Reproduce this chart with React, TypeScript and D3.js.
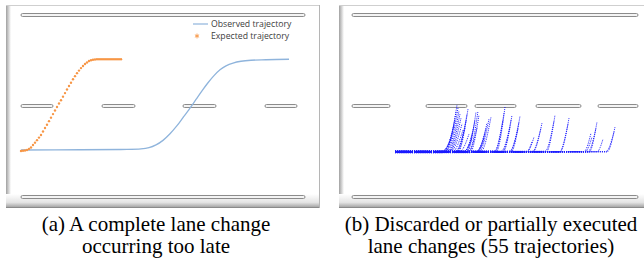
import * as d3 from 'd3';

// lane marking lateral positions (m): right edge, centre line, left edge
const LANE_LINES = [0, 3.6, 7.2];

// dashed centre-line segments [from, to] along the road (m)
const dashesA: [number, number][] = [[0, 32], [81, 114], [162, 195], [244, 276]];
const dashesB: [number, number][] = [[0, 38], [74, 115], [123, 164], [184, 229], [246, 286]];

// (a) expected trajectory (orange markers)
const expectedX = [
  0, 2, 4, 6, 8, 10, 12, 14, 16, 18, 20, 22, 24, 26, 28, 30, 32, 34, 36, 38, 40, 42, 44, 46, 48,
  50, 52, 54, 56, 58, 60, 62, 64, 66, 68, 70, 72, 74, 76, 78, 80, 82, 84, 86, 88, 90, 92, 94, 96, 98, 100,
];
const expectedLat = [
  1.82, 1.83, 1.84, 1.86, 1.9, 1.96, 2.06, 2.15, 2.25, 2.35, 2.45, 2.59, 2.73, 2.86, 3.0, 3.14, 3.28,
  3.42, 3.56, 3.7, 3.83, 3.97, 4.11, 4.25, 4.39, 4.52, 4.66, 4.78, 4.9, 5.0, 5.1, 5.18, 5.26, 5.32,
  5.38, 5.41, 5.43, 5.44, 5.45, 5.45, 5.45, 5.45, 5.45, 5.45, 5.45, 5.45, 5.45, 5.45, 5.45, 5.45, 5.45,
];

// (a) observed trajectory (blue line)
const observedX = [0, 60, 100, 120, 128, 135, 142, 149, 156, 162, 169, 175, 181, 187, 193, 199, 205, 212, 220, 230, 245, 268];
const observedLat = [1.86, 1.87, 1.88, 1.9, 1.95, 2.06, 2.24, 2.5, 2.82, 3.14, 3.52, 3.86, 4.2, 4.52, 4.8, 5.03, 5.19, 5.3, 5.37, 5.41, 5.43, 5.45];

// (b) 55 discarded / partial lane changes
const PARTIAL_START_X = 43;
const partialBaseLat = [
  1.8, 1.78, 1.76, 1.79, 1.81, 1.77, 1.8, 1.78, 1.75, 1.79, 1.82, 1.77, 1.8, 1.76, 1.79, 1.78, 1.81, 1.77, 1.8, 1.75,
  1.78, 1.82, 1.79, 1.76, 1.8, 1.78, 1.81, 1.77, 1.79, 1.76, 1.8, 1.78, 1.82, 1.77, 1.79, 1.76, 1.8, 1.78, 1.81, 1.77,
  1.79, 1.76, 1.8, 1.78, 1.77, 1.81, 1.79, 1.76, 1.8, 1.78, 1.77, 1.8, 1.79, 1.78, 1.8,
];
const partialRiseX = [
  94, 95, 96, 97, 98, 93, 92, 91, 90, 89, 99, 100, 106, 105, 104, 103, 108, 115, 117, 118, 114, 113, 112, 116, 112,
  127, 129, 126, 125, 124, 124, 144, 143, 142, 151, 150, 149, 159, 158, 157, 175, 174, 181, 180, 194, 193, 208, 207,
  232, 233, 237, 236, 245, 255, 254,
];
const partialPeakX = [
  105, 106, 107, 108, 109, 104, 103, 102, 101, 100, 110, 111, 116, 115, 114, 113, 117, 124, 126, 127, 123, 122, 121, 125, 120,
  137, 139, 135, 134, 133, 132, 153, 152, 151, 160, 159, 158, 168, 167, 166, 182, 180, 190, 189, 203, 202, 217, 216,
  239, 240, 245, 244, 251, 263, 262,
];
const partialPeakLat = [
  3.64, 3.52, 3.4, 3.28, 3.12, 3.36, 3.05, 2.81, 2.57, 2.33, 2.89, 2.65, 3.48, 3.28, 3.01, 2.73, 2.49, 3.36, 3.4, 3.24,
  3.05, 2.81, 2.57, 2.73, 2.33, 3.09, 3.16, 2.93, 2.73, 2.53, 2.29, 3.56, 3.32, 3.05, 3.24, 3.05, 2.77, 3.2, 2.97, 2.69,
  2.37, 2.18, 2.93, 2.73, 3.24, 3.01, 3.12, 2.89, 2.53, 2.37, 2.97, 2.73, 2.29, 2.77, 2.57,
];

const captionA = ['(a) A complete lane change', 'occurring too late'];
const captionB = ['(b) Discarded or partially executed', 'lane changes (55 trajectories)'];

const W = 644;
const H = 261;

const yScale = d3.scaleLinear().domain([0, 7.2]).range([197, 15]);
const xA = d3.scaleLinear().domain([0, 284]).range([21, 305]);
const xB = d3.scaleLinear().domain([0, 286]).range([352, 638]);

function Frame({ x0, x1, id }: { x0: number; x1: number; id: string }) {
  return (
    <g>
      <defs>
        <linearGradient id={`${id}-bot`} x1="0" y1="0" x2="0" y2="1">
          <stop offset="0" stopColor="#ffffff" />
          <stop offset="0.6" stopColor="#e4e4e4" />
          <stop offset="1" stopColor="#9a9a9a" />
        </linearGradient>
        <linearGradient id={`${id}-left`} x1="0" y1="0" x2="1" y2="0">
          <stop offset="0" stopColor="#a0a0a0" />
          <stop offset="1" stopColor="#ffffff" />
        </linearGradient>
      </defs>
      <rect x={x0} y={5} width={x1 - x0} height={203} fill="#fff" />
      <rect x={x0} y={5} width={5} height={203} fill={`url(#${id}-left)`} />
      <rect x={x0} y={194} width={x1 - x0} height={14} fill={`url(#${id}-bot)`} />
      <line x1={x0} x2={x1} y1={5.5} y2={5.5} stroke="#cfcfcf" />
      <line x1={x0} x2={x1} y1={207.5} y2={207.5} stroke="#8a8a8a" />
    </g>
  );
}

function Lanes({ x, dashes }: { x: d3.ScaleLinear<number, number>; dashes: [number, number][] }) {
  const [d0, d1] = x.domain();
  const edges = [LANE_LINES[0], LANE_LINES[2]];
  return (
    <g fill="#f4f4f4" stroke="#8c8c8c" strokeWidth={1}>
      {edges.map(l => (
        <rect key={l} x={x(d0)} y={yScale(l) - 1.5} width={x(d1) - x(d0)} height={3} rx={1.5} />
      ))}
      {dashes.map(([a, b]) => (
        <rect key={a} x={x(a)} y={yScale(LANE_LINES[1]) - 1.5} width={x(b) - x(a)} height={3} rx={1.5} />
      ))}
    </g>
  );
}

export default function App() {
  const observedLine = d3
    .line<number>()
    .x((_, i) => xA(observedX[i]))
    .y(d => yScale(d))
    .curve(d3.curveCatmullRom.alpha(0.5))(observedLat) ?? '';

  const partialLine = d3
    .line<[number, number]>()
    .x(d => xB(d[0]))
    .y(d => yScale(d[1]))
    .curve(d3.curveMonotoneX);

  const partials = partialRiseX.map((rise, i) =>
    partialLine([
      [PARTIAL_START_X, partialBaseLat[i]],
      [rise, partialBaseLat[i]],
      [partialPeakX[i], partialPeakLat[i]],
    ]) ?? ''
  );

  const asterisk = d3.symbol().type(d3.symbolAsterisk).size(16)() ?? '';

  return (
    <svg width={W} height={H} style={{ position: 'absolute', left: 0, top: 0 }}>
      <rect width={W} height={H} fill="#fff" />

      {/* panel (a) */}
      <Frame x0={6} x1={320} id="fa" />
      <line x1={319.5} x2={319.5} y1={5} y2={208} stroke="#b5b5b5" />
      <Lanes x={xA} dashes={dashesA} />
      <path d={observedLine} fill="none" stroke="#8fb4dc" strokeWidth={1.3} />
      <g fill="#f79646">
        {expectedLat.map((d, i) => (
          <circle key={i} cx={xA(expectedX[i])} cy={yScale(d)} r={1.2} />
        ))}
      </g>
      <g fontFamily="'Open Sans', sans-serif" fontSize={8.7} fill="#404040">
        <line x1={193} x2={208} y1={24} y2={24} stroke="#8fb4dc" strokeWidth={1.2} />
        <text x={211} y={27}>Observed trajectory</text>
        <path d={asterisk} transform="translate(197,36)" stroke="#f79646" strokeWidth={0.9} fill="none" />
        <text x={211} y={39}>Expected trajectory</text>
      </g>

      {/* panel (b) */}
      <Frame x0={339} x1={W} id="fb" />
      <Lanes x={xB} dashes={dashesB} />
      <g fill="none" stroke="#0000ff" strokeWidth={1} strokeDasharray="0.9 1" opacity={0.9}>
        {partials.map((d, i) => (
          <path key={i} d={d} />
        ))}
      </g>

      {/* captions */}
      <g fontFamily="'Liberation Serif', 'Times New Roman', serif" fontSize={21} fill="#000" textAnchor="middle">
        {captionA.map((t, i) => (
          <text key={t} x={156} y={231 + i * 22}>{t}</text>
        ))}
        {captionB.map((t, i) => (
          <text key={t} x={491} y={231 + i * 22}>{t}</text>
        ))}
      </g>
    </svg>
  );
}
